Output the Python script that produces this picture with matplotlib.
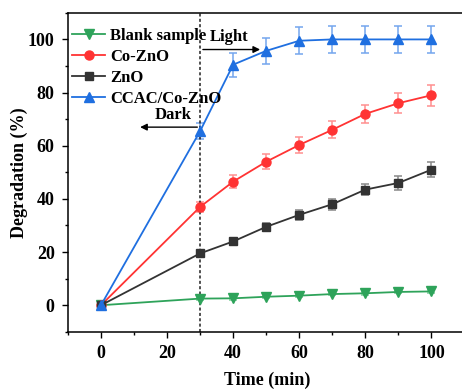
import numpy as np
import matplotlib
matplotlib.use("Agg")
import matplotlib.pyplot as plt
from matplotlib.lines import Line2D
from matplotlib.ticker import MultipleLocator

# data
time = [0, 30, 40, 50, 60, 70, 80, 90, 100]
blank = [0, 2.5, 2.6, 3.2, 3.6, 4.2, 4.5, 5.0, 5.2]
blank_err = [0, 0.5, 0.5, 0.5, 0.5, 0.5, 0.5, 0.5, 0.5]
co_zno = [0, 37.0, 46.5, 54.0, 60.3, 66.0, 72.0, 76.0, 79.0]
co_zno_err = [0, 2.0, 2.5, 2.8, 3.0, 3.2, 3.5, 3.8, 4.0]
zno = [0, 19.5, 24.0, 29.5, 34.0, 38.0, 43.5, 46.0, 51.0]
zno_err = [0, 1.0, 1.2, 1.5, 1.8, 2.0, 2.2, 2.5, 2.7]
ccac = [0, 65.5, 90.5, 95.7, 99.5, 100, 100, 100, 100]
ccac_err = [0, 3.0, 4.5, 5.0, 5.0, 5.0, 5.0, 5.0, 5.0]

labels = ["Blank sample", "Co-ZnO", "ZnO", "CCAC/Co-ZnO"]

plt.rcParams['font.family'] = ['Liberation Serif', 'DejaVu Serif']
plt.rcParams['font.weight'] = 'bold'

fig = plt.figure(figsize=(4.62, 3.89), dpi=100)
ax = fig.add_axes([0.147, 0.147, 0.862, 0.82])

series = [
    (blank, blank_err, "#2ea35a", "#7fcf9c", "v", 6.5),
    (co_zno, co_zno_err, "#ff3333", "#ff9090", "o", 6.5),
    (zno, zno_err, "#333333", "#888888", "s", 5.5),
    (ccac, ccac_err, "#1f6fe0", "#74a6ee", "^", 6.5),
]
handles = []
for (y, e, c, ec, m, ms), lab in zip(series, labels):
    ax.errorbar(time, y, yerr=e, color=c, ecolor=ec, marker=m, ms=ms,
                lw=1.3, elinewidth=1.1, capsize=3, capthick=1.1)
    handles.append(Line2D([], [], color=c, marker=m, ms=ms, lw=1.3, label=lab))

ax.axvline(30, color="#222222", ls=(0, (2, 1.5)), lw=1.1)

ax.annotate("", xy=(49, 96.2), xytext=(30, 96.2),
            arrowprops=dict(arrowstyle="-|>", color="black", lw=1, mutation_scale=10))
ax.text(38.9, 98.0, "Light", ha="center", va="bottom", fontsize=12, fontweight="bold")
ax.annotate("", xy=(11, 67), xytext=(30, 67),
            arrowprops=dict(arrowstyle="-|>", color="black", lw=1, mutation_scale=10))
ax.text(21.8, 68.4, "Dark", ha="center", va="bottom", fontsize=12, fontweight="bold")

ax.set_xlim(-10, 110.5)
ax.set_ylim(-10, 110)
ax.xaxis.set_major_locator(MultipleLocator(20))
ax.xaxis.set_minor_locator(MultipleLocator(10))
ax.yaxis.set_major_locator(MultipleLocator(20))
ax.yaxis.set_minor_locator(MultipleLocator(10))
ax.tick_params(which="major", length=4.5, width=1, labelsize=13, pad=5)
ax.tick_params(which="minor", length=2.5, width=1)
for lab in ax.get_xticklabels() + ax.get_yticklabels():
    lab.set_fontweight("bold")
for s in ax.spines.values():
    s.set_linewidth(1.1)

ax.set_xlabel("Time (min)", fontsize=13, fontweight="bold", labelpad=7)
ax.set_ylabel("Degradation (%)", fontsize=13, fontweight="bold", labelpad=0)

ax.legend(handles=handles, loc="upper left", bbox_to_anchor=(0.01, 0.952),
          frameon=False, prop={"weight": "bold", "size": 12}, handlelength=2.0,
          handletextpad=0.3, labelspacing=0.3, borderpad=0, borderaxespad=0)

fig.savefig("out.png", dpi=100)
